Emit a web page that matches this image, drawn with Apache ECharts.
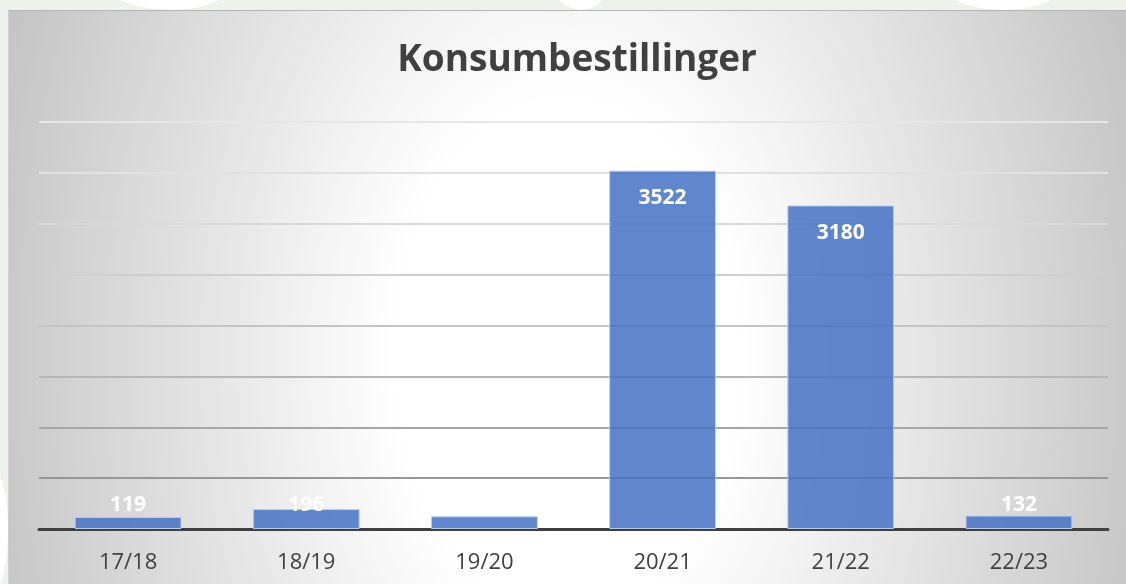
<!DOCTYPE html>
<html>
<head>
<meta charset="utf-8">
<script src="https://cdn.jsdelivr.net/npm/echarts@6/dist/echarts.min.js"></script>
<style>
  html, body { margin: 0; padding: 0; }
  body {
    width: 1126px; height: 584px; overflow: hidden; position: relative;
    background: #eef1ec;
    font-family: "Open Sans", sans-serif;
  }
  .blob { position: absolute; background: #ffffff; border-radius: 50%; }
  .panel {
    position: absolute; left: 8px; top: 10px; width: 1118px; height: 574px;
    border-top: 1px solid #b4b4b4; border-left: 1px solid #d0d0d0;
    box-sizing: border-box;
    background: radial-gradient(ellipse 600px 900px at 50% 60%, #ffffff 0%, #ffffff 28%, #c4c4c4 100%);
  }
  #chart { position: absolute; left: 0; top: 0; width: 1126px; height: 584px; }
</style>
</head>
<body>
<!-- 背景装饰 -->
<div class="blob" style="left:95px;top:-70px;width:150px;height:80px;"></div>
<div class="blob" style="left:550px;top:-60px;width:62px;height:70px;"></div>
<div class="blob" style="left:930px;top:-70px;width:145px;height:80px;"></div>
<div class="blob" style="left:-20px;top:470px;width:28px;height:120px;"></div>
<div class="panel"></div>
<div id="chart"></div>
<script>
  const titleText = 'Konsumbestillinger'
  const categories = ['17/18', '18/19', '19/20', '20/21', '21/22', '22/23']
  const values = [119, 196, 125, 3522, 3180, 132]
  const yMax = 4000
  const yStep = 500

  // 网格线颜色：越往下越深
  const gridColors = ['#8a8a8a', '#979797', '#a6a6a6', '#b6b6b6', '#c4c4c4', '#cfcfcf', '#d9d9d9', '#e1e1e1', '#e6e6e6']

  let myChart = echarts.init(document.getElementById('chart'))
  let option = {
    backgroundColor: 'transparent',
    title: {
      text: titleText,
      left: 572,
      top: 37,
      textAlign: 'center',
      textStyle: {
        fontFamily: 'Open Sans',
        fontSize: 37,
        fontWeight: 'bold',
        color: '#404040'
      }
    },
    grid: {
      left: 39,
      right: 18,
      top: 122,
      bottom: 55,
      containLabel: false
    },
    xAxis: {
      type: 'category',
      data: categories,
      axisLine: { show: true, lineStyle: { color: '#404040', width: 3 } },
      axisTick: { show: false },
      axisLabel: {
        margin: 23,
        fontFamily: 'Open Sans',
        fontSize: 22,
        color: '#404040'
      }
    },
    yAxis: {
      type: 'value',
      min: 0,
      max: yMax,
      interval: yStep,
      axisLabel: { show: false },
      axisLine: { show: false },
      axisTick: { show: false },
      splitLine: { show: true, lineStyle: { color: gridColors, width: 2 } }
    },
    series: [
      {
        type: 'bar',
        barWidth: '60%',
        data: values.map(v => ({
          value: v,
          label: v > 1000
            ? { position: 'insideTop', distance: 17 }
            : { position: 'insideBottom', distance: 13 }
        })),
        itemStyle: {
          color: 'rgba(68,114,196,0.85)',
          borderColor: 'rgba(190,208,236,0.95)',
          borderWidth: 1
        },
        label: {
          show: true,
          color: '#ffffff',
          fontFamily: 'Open Sans',
          fontSize: 21,
          fontWeight: 'bold'
        }
      }
    ]
  }
  myChart.setOption(option)
</script>
</body>
</html>
